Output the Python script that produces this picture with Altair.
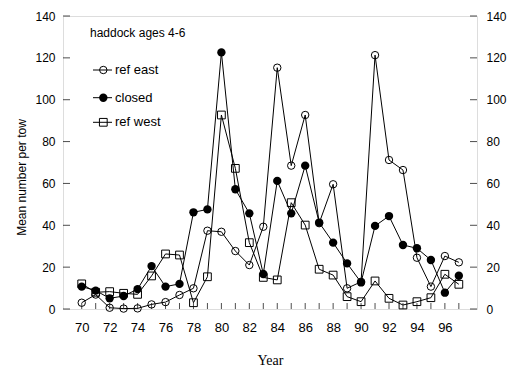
import altair as alt
import pandas as pd

years = list(range(70, 98))
ref_east = [3, 6.9, 0.6, 0.2, 0.3, 2.2, 3.3, 6.7, 9.9, 37.4, 36.9, 27.7, 21, 39.3,
            115.3, 68.5, 92.7, 41, 59.6, 9.9, 13, 121.3, 71.2, 66.4, 24.5, 10.7, 25.3, 22.3]
closed = [10.7, 8.8, 5.1, 6.2, 9.5, 20.5, 10.7, 12, 46.2, 47.6, 122.6, 57.2, 45.7, 16.7,
          61.2, 45.7, 68.5, 41.3, 31.7, 21.8, 12.7, 39.7, 44.4, 30.6, 29, 23.4, 7.8, 15.9]
ref_west = [12, 8, 8.3, 7.5, 7, 15.8, 26.3, 25.8, 3, 15.4, 92.7, 67.2, 31.7, 15.1,
            13.9, 50.8, 40.1, 19, 16.2, 5.9, 3.5, 13.4, 5.1, 1.9, 3.5, 5.4, 16.6, 11.8]
series_names = ["ref east", "closed", "ref west"]
y_ticks = [0, 20, 40, 60, 80, 100, 120, 140]
x_labels = list(range(70, 97, 2))
x_ticks = list(range(70, 98))
legend_title = "haddock ages 4-6"

W, H = 414, 293
xdom = [68.66, 98.3]
ydom = [0, 140]

df = pd.DataFrame({
    "Year": years * 3,
    "value": ref_east + closed + ref_west,
    "series": [series_names[0]] * 28 + [series_names[1]] * 28 + [series_names[2]] * 28,
})

xs = alt.Scale(domain=xdom, nice=False, zero=False)
ys = alt.Scale(domain=ydom, nice=False, zero=False)

base = alt.Chart(df)

lines = base.mark_line(color="black", strokeWidth=1).encode(
    x=alt.X("Year:Q", scale=xs,
            axis=alt.Axis(values=x_labels, format="d", tickSize=0, labelFontSize=13,
                          labelPadding=12, title="Year", titleFont="Liberation Serif",
                          titleFontSize=14, titleFontWeight="normal", titleBaseline="alphabetic",
                          titleY=55, domain=False, grid=False, labelColor="black",
                          titleColor="black", labelFlush=False)),
    y=alt.Y("value:Q", scale=ys,
            axis=alt.Axis(values=y_ticks, orient="left", tickSize=0, labelFontSize=12,
                          labelPadding=8, title="Mean number per tow", titleFontSize=12,
                          titleFontWeight="normal", titleX=-38, titleY=161,
                          titleBaseline="alphabetic", titleAlign="center", titleAngle=-90,
                          domain=False, grid=False, labelColor="black", titleColor="black")),
    detail="series:N",
)

pts_east = alt.Chart(df[df.series == "ref east"]).mark_point(
    shape="circle", filled=False, color="black", size=55, strokeWidth=1, opacity=1
).encode(x=alt.X("Year:Q", scale=xs, axis=None),
         y=alt.Y("value:Q", scale=ys,
                 axis=alt.Axis(values=y_ticks, orient="right", tickSize=0, labelFontSize=12,
                               labelPadding=9, title=None, domain=False, grid=False,
                               labelColor="black")))

pts_closed = alt.Chart(df[df.series == "closed"]).mark_point(
    shape="circle", filled=True, color="black", size=70, opacity=1
).encode(x=alt.X("Year:Q", scale=xs, axis=None), y=alt.Y("value:Q", scale=ys, axis=None))

pts_west = alt.Chart(df[df.series == "ref west"]).mark_point(
    shape="square", filled=False, color="black", size=60, strokeWidth=1, opacity=1
).encode(x=alt.X("Year:Q", scale=xs, axis=None), y=alt.Y("value:Q", scale=ys, axis=None))

ydf = pd.DataFrame({"v": y_ticks})
xdf = pd.DataFrame({"v": x_ticks})
lt = alt.Chart(ydf).mark_tick(orient="horizontal", color="black", thickness=1, size=7).encode(
    y=alt.Y("v:Q", scale=ys, axis=None), x=alt.value(3.5))
rt = alt.Chart(ydf).mark_tick(orient="horizontal", color="black", thickness=1, size=7).encode(
    y=alt.Y("v:Q", scale=ys, axis=None), x=alt.value(W - 3.5))
bt = alt.Chart(xdf).mark_tick(orient="vertical", color="black", thickness=1, size=6).encode(
    x=alt.X("v:Q", scale=xs, axis=None), y=alt.value(H - 3))

# legend
leg_rows = [54, 81.7, 106.3]
leg_title = alt.Chart(pd.DataFrame({"t": [legend_title]})).mark_text(
    align="left", baseline="middle", fontSize=12, color="black").encode(
    text="t:N", x=alt.value(27), y=alt.value(17))
leg_layers = [leg_title]
shapes = [("circle", False, 55), ("circle", True, 70), ("square", False, 60)]
for name, yy, (shp, fill, sz) in zip(series_names, leg_rows, shapes):
    d = pd.DataFrame({"t": [name]})
    leg_layers.append(alt.Chart(d).mark_rule(color="black", strokeWidth=1).encode(
        x=alt.value(30), x2=alt.value(49), y=alt.value(yy)))
    leg_layers.append(alt.Chart(d).mark_point(shape=shp, filled=fill, color="black",
                                              size=sz, opacity=1, strokeWidth=1).encode(
        x=alt.value(40.3), y=alt.value(yy)))
    leg_layers.append(alt.Chart(d).mark_text(align="left", baseline="middle", fontSize=13,
                                             color="black").encode(
        text="t:N", x=alt.value(52), y=alt.value(yy)))

chart = alt.layer(lines, pts_east, pts_closed, pts_west, lt, rt, bt, *leg_layers).resolve_axis(
    y="independent", x="independent"
).properties(
    width=W, height=H,
    autosize=alt.AutoSizeParams(type="none"),
    padding={"left": 63, "top": 16, "right": 31, "bottom": 58},
).configure_view(stroke="black", strokeWidth=1).configure(
    font="Liberation Sans", background="white")

chart.save("out.html", embed_options={"renderer": "svg", "actions": False})
